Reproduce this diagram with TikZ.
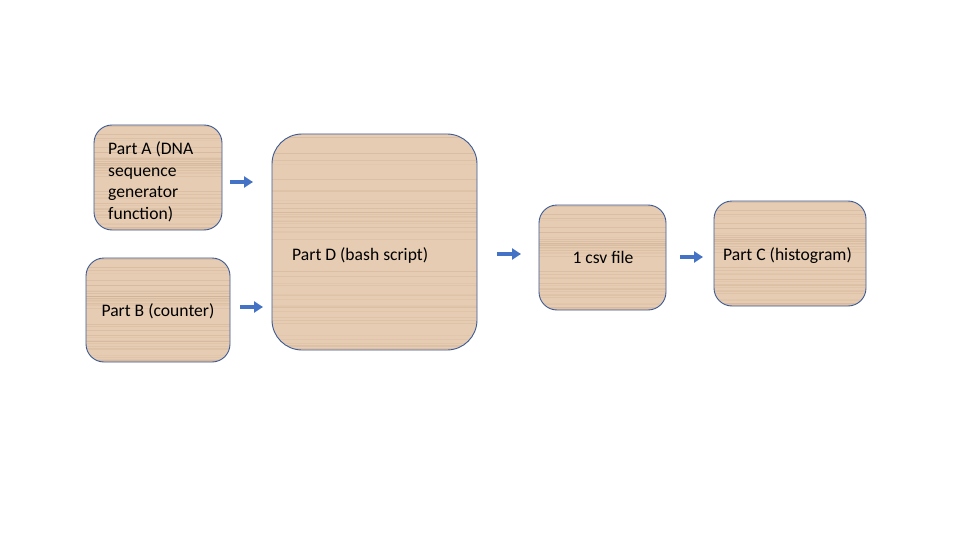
\documentclass[tikz,border=0pt]{standalone}
\usepackage{fontspec}
\setmainfont{Carlito}
\usetikzlibrary{calc,arrows.meta}
\definecolor{woodbase}{RGB}{230,204,178}
\definecolor{grain}{RGB}{175,140,110}
\definecolor{boxedge}{RGB}{60,90,150}
\definecolor{arrowblue}{RGB}{68,114,196}
\tikzset{
  wood/.style={draw=boxedge, line width=0.9pt, rounded corners=#1, fill=woodbase, inner sep=0pt,
    path picture={
      \pgfmathsetseed{11}
      \foreach \k in {1,...,45}{
        \pgfmathsetmacro{\yy}{rnd}
        \pgfmathsetmacro{\op}{0.05+0.15*rnd}
        \pgfmathsetmacro{\lw}{0.3+0.8*rnd}
        \draw[grain, opacity=\op, line width=\lw pt]
          ($(path picture bounding box.south west)!\yy!(path picture bounding box.north west)$) --
          ($(path picture bounding box.south east)!\yy!(path picture bounding box.north east)$);
      }
    }},
  wood/.default=18pt,
  lbl/.style={inner sep=0pt, font=\fontsize{17.6}{21.5}\selectfont, align=left},
  flow/.style={draw=arrowblue, line width=3.6pt, -{Triangle[length=9pt,width=11pt]}},
}
\begin{document}
\begin{tikzpicture}[x=1pt,y=-1pt]
\useasboundingbox (0,0) rectangle (960,540);
\fill[white] (0,0) rectangle (960,540);

\node[wood, minimum width=128pt, minimum height=105pt] (A) at (158,177.5) {};
\node[wood, minimum width=144pt, minimum height=104pt] (B) at (158,310) {};
\node[wood=30pt, minimum width=205pt, minimum height=216pt] (D) at (374.5,242) {};
\node[wood, minimum width=127pt, minimum height=105pt] (CSV) at (602.5,257.5) {};
\node[wood, minimum width=152pt, minimum height=105pt] (C) at (790,253.5) {};

\node[lbl, anchor=west] (At) at (108,182) {Part A (DNA\\sequence\\generator\\function)};
\node[lbl] (Bt) at (158,311) {Part B (counter)};
\node[lbl, anchor=west] (Dt) at (292,255) {Part D (bash script)};
\node[lbl] (CSVt) at (603,257) {1 csv file};
\node[lbl] (Ct) at (787.5,256) {Part C (histogram)};

\coordinate (a1s) at (230,182); \coordinate (a1e) at (253,182);
\coordinate (a2s) at (240,307); \coordinate (a2e) at (263,307);
\coordinate (a3s) at (497,254); \coordinate (a3e) at (521,254);
\coordinate (a4s) at (680,257); \coordinate (a4e) at (703,257);
\draw[flow] (a1s) -- (a1e);
\draw[flow] (a2s) -- (a2e);
\draw[flow] (a3s) -- (a3e);
\draw[flow] (a4s) -- (a4e);
\end{tikzpicture}
\end{document}
